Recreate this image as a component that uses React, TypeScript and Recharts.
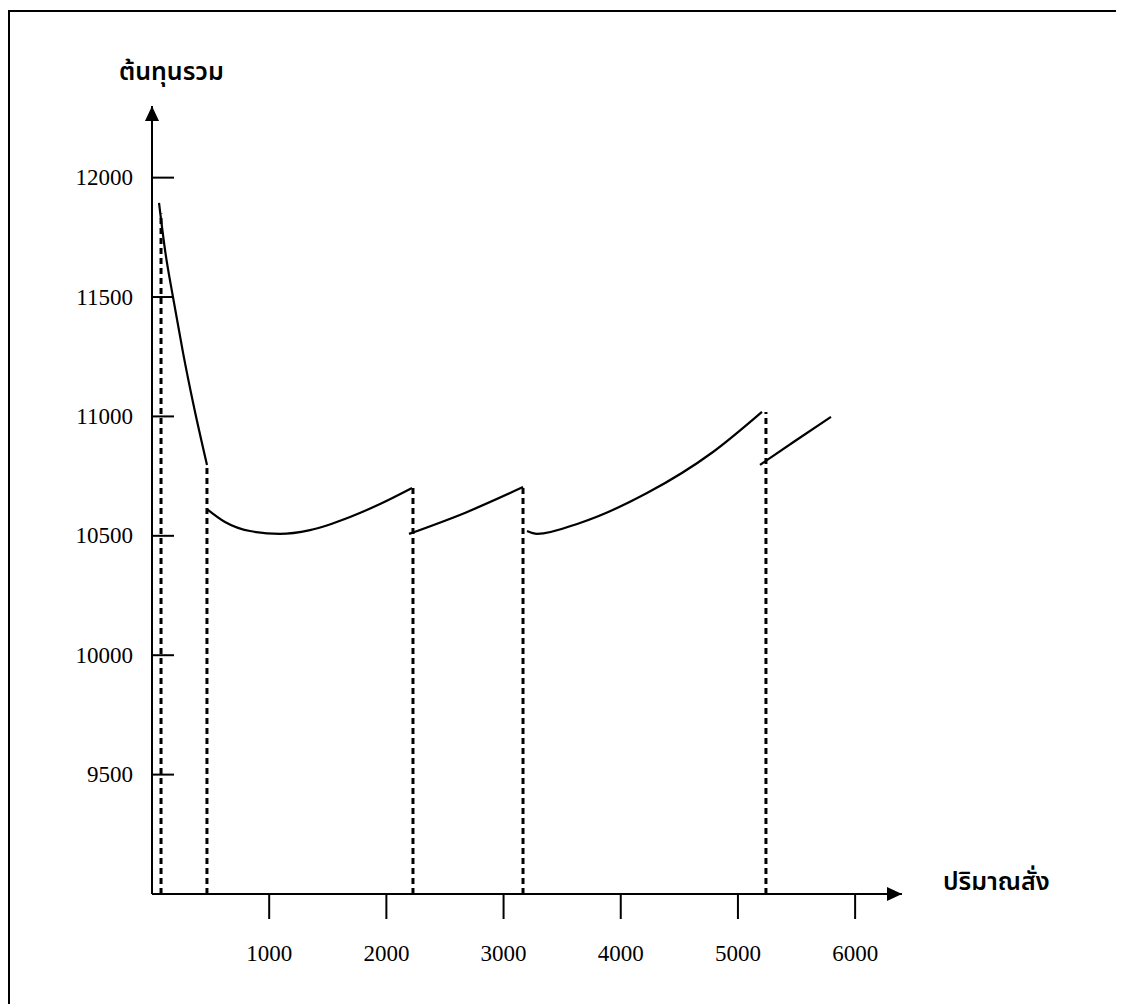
import React from 'react';
import { ComposedChart, Line, XAxis, YAxis, ReferenceLine } from 'recharts';

// Total cost curve segments (order quantity -> total cost)
const segment1 = [
  { q: 60, c: 11894 },
  { q: 115, c: 11684 },
  { q: 179, c: 11500 },
  { q: 265, c: 11266 },
  { q: 351, c: 11056 },
  { q: 469, c: 10797 },
];
const segment2 = [
  { q: 469, c: 10612 },
  { q: 623, c: 10558 },
  { q: 836, c: 10520 },
  { q: 1092, c: 10508 },
  { q: 1348, c: 10524 },
  { q: 1690, c: 10579 },
  { q: 1946, c: 10633 },
  { q: 2219, c: 10700 },
];
const segment3 = [
  { q: 2193, c: 10508 },
  { q: 2680, c: 10598 },
  { q: 3166, c: 10704 },
];
const segment4 = [
  { q: 3200, c: 10520 },
  { q: 3285, c: 10508 },
  { q: 3652, c: 10554 },
  { q: 4224, c: 10679 },
  { q: 4787, c: 10851 },
  { q: 5205, c: 11019 },
];
const segment5 = [
  { q: 5188, c: 10797 },
  { q: 5487, c: 10897 },
  { q: 5794, c: 10998 },
];
const segments = [segment1, segment2, segment3, segment4, segment5];

// Price-break quantities (dashed guides) and the cost where each guide stops
const breakQty = [77, 469, 2227, 3166, 5239];
const breakTop = [11850, 10797, 10700, 10704, 11019];

const xTicks = [1000, 2000, 3000, 4000, 5000, 6000];
const yTicks = [9500, 10000, 10500, 11000, 11500, 12000];
const xDomain = [0, 6400];
const yDomain = [9000, 12300];

const yTitle = 'ต้นทุนรวม';
const xTitle = 'ปริมาณสั่ง';

const SERIF = "'Liberation Serif', 'Times New Roman', serif";
const THAI = "'Noto Sans Thai', 'Noto Serif Thai', Loma, Garuda, 'TlwgTypo', 'DejaVu Sans', sans-serif";

const YTick = (props: any) => {
  const { x, y, payload } = props;
  return (
    <g>
      <line x1={x} x2={x + 22} y1={y} y2={y} stroke="#000" strokeWidth={2} />
      <text x={x - 19} y={y} textAnchor="end" dominantBaseline="central" fontFamily={SERIF} fontSize={23} fill="#000">
        {payload.value}
      </text>
    </g>
  );
};

const XTick = (props: any) => {
  const { x, y, payload } = props;
  return (
    <g>
      <line x1={x} x2={x} y1={y} y2={y + 25} stroke="#000" strokeWidth={2} />
      <text x={x} y={y + 59} textAnchor="middle" dominantBaseline="central" fontFamily={SERIF} fontSize={23} fill="#000">
        {payload.value}
      </text>
    </g>
  );
};

const YTitle = (props: any) => {
  const vb = props.viewBox || {};
  return (
    <text x={vb.x + vb.width - 33} y={vb.y - 26} fontFamily={THAI} fontSize={25} fontWeight={600} fill="#000" textAnchor="start">
      {yTitle}
    </text>
  );
};

const XTitle = (props: any) => {
  const vb = props.viewBox || {};
  return (
    <text x={vb.x + vb.width + 41} y={vb.y - 4} fontFamily={THAI} fontSize={25} fontWeight={600} fill="#000" textAnchor="start">
      {xTitle}
    </text>
  );
};

export default function App() {
  return (
    <div style={{ position: 'relative', width: 1108, height: 996, overflow: 'hidden', background: '#fff' }}>
      <style>{'html,body{overflow:hidden;background:#fff}'}</style>
      <div
        style={{
          position: 'absolute',
          left: 0,
          top: 2,
          width: 1110,
          height: 1100,
          boxSizing: 'border-box',
          borderTop: '2px solid #000',
          borderLeft: '2px solid #000',
          borderRight: '2px solid #000',
        }}
      />
      <div style={{ position: 'absolute', left: 0, top: 0 }}>
        <ComposedChart width={1108} height={996} margin={{ top: 98, right: 214, bottom: 80, left: 84 }}>
          <defs>
            <marker id="axisArrow" viewBox="0 0 15 14" refX="15" refY="7" markerWidth="15" markerHeight="14" markerUnits="userSpaceOnUse" orient="auto-start-reverse">
              <path d="M0,0 L15,7 L0,14 z" fill="#000" />
            </marker>
          </defs>
          <XAxis
            type="number"
            dataKey="q"
            domain={xDomain}
            ticks={xTicks}
            allowDataOverflow
            tickSize={0}
            tickMargin={0}
            tickLine={false}
            axisLine={{ stroke: '#000', strokeWidth: 2, markerEnd: 'url(#axisArrow)' }}
            tick={<XTick />}
            interval={0}
            height={30}
            label={{ content: <XTitle /> }}
          />
          <YAxis
            type="number"
            dataKey="c"
            domain={yDomain}
            ticks={yTicks}
            allowDataOverflow
            tickSize={0}
            tickMargin={0}
            tickLine={false}
            axisLine={{ stroke: '#000', strokeWidth: 2, markerStart: 'url(#axisArrow)' }}
            tick={<YTick />}
            interval={0}
            width={60}
            label={{ content: <YTitle /> }}
          />
          {breakQty.map((q, i) => (
            <ReferenceLine
              key={'b' + i}
              segment={[{ x: q, y: yDomain[0] }, { x: q, y: breakTop[i] }]}
              stroke="#000"
              strokeWidth={3}
              strokeDasharray="6 4"
              ifOverflow="visible"
            />
          ))}
          {segments.map((seg, i) => (
            <Line
              key={'s' + i}
              data={seg}
              dataKey="c"
              type="monotone"
              stroke="#000"
              strokeWidth={2.2}
              dot={false}
              activeDot={false}
              isAnimationActive={false}
            />
          ))}
        </ComposedChart>
      </div>
    </div>
  );
}
